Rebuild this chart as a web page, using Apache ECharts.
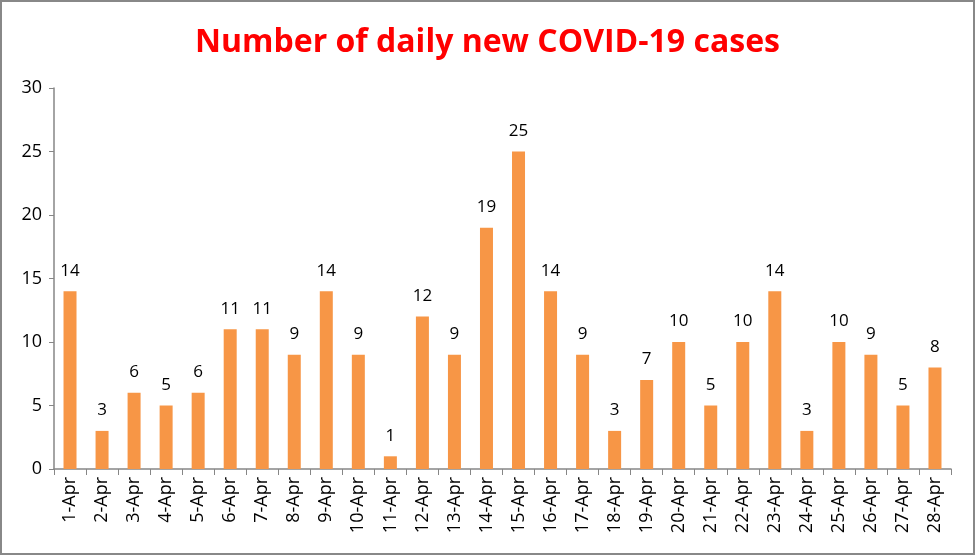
<!DOCTYPE html>
<html>
<head>
<meta charset="utf-8">
<script src="https://cdn.jsdelivr.net/npm/echarts@6/dist/echarts.min.js"></script>
<style>
  html, body { margin: 0; padding: 0; background: #fff; }
  #chart { width: 971px; height: 551px; border: 2px solid #888; }
</style>
</head>
<body>
<div id="chart"></div>
<script>
// days of April
const categories = ['1-Apr', '2-Apr', '3-Apr', '4-Apr', '5-Apr', '6-Apr', '7-Apr', '8-Apr', '9-Apr', '10-Apr',
  '11-Apr', '12-Apr', '13-Apr', '14-Apr', '15-Apr', '16-Apr', '17-Apr', '18-Apr', '19-Apr', '20-Apr',
  '21-Apr', '22-Apr', '23-Apr', '24-Apr', '25-Apr', '26-Apr', '27-Apr', '28-Apr'];
const newCases = [14, 3, 6, 5, 6, 11, 11, 9, 14, 9, 1, 12, 9, 19, 25, 14, 9, 3, 7, 10, 5, 10, 14, 3, 10, 9, 5, 8];
const yTicks = [0, 5, 10, 15, 20, 25, 30];

const font = "'Open Sans', 'Noto Sans', sans-serif";
const axisGray = '#868686';

const myChart = echarts.init(document.getElementById('chart'));
myChart.setOption({
  animation: false,
  title: {
    text: 'Number of daily new COVID-19 cases',
    left: 'center',
    top: 20,
    textStyle: {
      color: '#ff0000',
      fontSize: 32,
      fontWeight: 'bold',
      fontFamily: "'Liberation Sans Narrow', 'Open Sans', sans-serif"
    }
  },
  grid: {
    left: 52,
    right: 22,
    top: 86,
    bottom: 84
  },
  xAxis: {
    type: 'category',
    data: categories,
    axisLine: { show: true, lineStyle: { color: axisGray, width: 1.5 } },
    axisTick: { show: true, length: 6, lineStyle: { color: axisGray } },
    axisLabel: {
      rotate: 90,
      interval: 0,
      color: '#000',
      fontSize: 18,
      fontFamily: font,
      margin: 8
    }
  },
  yAxis: {
    type: 'value',
    min: yTicks[0],
    max: yTicks[yTicks.length - 1],
    interval: 5,
    axisLine: { show: true, lineStyle: { color: axisGray, width: 1.5 } },
    axisTick: { show: true, length: 5, lineStyle: { color: axisGray } },
    splitLine: { show: false },
    axisLabel: {
      color: '#000',
      fontSize: 18,
      fontFamily: font,
      margin: 12
    }
  },
  series: [{
    type: 'bar',
    data: newCases,
    barWidth: 13,
    itemStyle: { color: '#f79646' },
    label: {
      show: true,
      position: 'top',
      distance: 12,
      color: '#000',
      fontSize: 17,
      fontFamily: font
    }
  }]
});
</script>
</body>
</html>
